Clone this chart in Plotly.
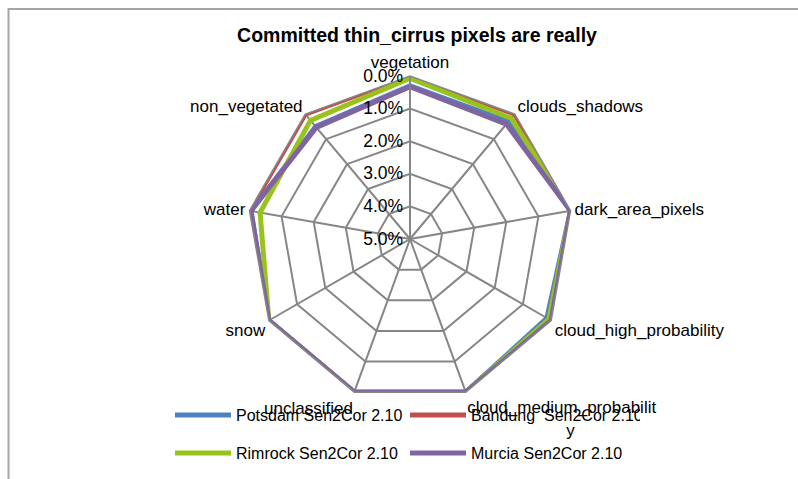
import plotly.graph_objects as go

# Categories around the radar, clockwise from the top
categories = [
    "vegetation", "clouds_shadows", "dark_area_pixels", "cloud_high_probability",
    "cloud_medium_probabilit<br>" + " " * 21 + "y", "unclassified", "snow", "water",
    "non_vegetated",
]

# Share of committed thin_cirrus pixels per class (fraction)
potsdam = [0.0030, 0.0030, 0.0, 0.0015, 0.0, 0.0, 0.0, 0.0005, 0.0050]
bandung = [0.0, 0.0, 0.0, 0.0, 0.0, 0.0, 0.0, 0.0, 0.0]
rimrock = [0.0007, 0.0017, 0.0, 0.0008, 0.0, 0.0, 0.0, 0.0033, 0.0025]
murcia = [0.0033, 0.0040, 0.0, 0.0, 0.0, 0.0, 0.0, 0.0004, 0.0053]

series_names = ["Potsdam Sen2Cor 2.10", "Bandung  Sen2Cor 2.10",
                "Rimrock Sen2Cor 2.10", "Murcia Sen2Cor 2.10"]
series_values = [potsdam, bandung, rimrock, murcia]
series_colors = ["#4F81BD", "#C0504D", "#99C31C", "#8064A2"]
series_legend = ["legend", "legend", "legend2", "legend2"]

radial_ticks = [0.0, 0.01, 0.02, 0.03, 0.04, 0.05]

FONT = "Liberation Sans"
FS = 16

fig = go.Figure()
for name, vals, color, lg in zip(series_names, series_values, series_colors, series_legend):
    fig.add_trace(go.Scatterpolar(
        r=vals + vals[:1],
        theta=categories + categories[:1],
        mode="lines",
        name=name,
        line=dict(color=color, width=5),
        legend=lg,
    ))

W, H = 798, 479
cx, cy, R = 410, 239, 163

legend_common = dict(
    orientation="h", x=170 / W, xanchor="left", yanchor="middle",
    itemwidth=56, entrywidth=164, entrywidthmode="pixels",
    font=dict(family=FONT, size=FS, color="#000000"), bgcolor="rgba(0,0,0,0)",
)

fig.update_layout(
    width=W, height=H,
    margin=dict(l=0, r=0, t=0, b=0),
    paper_bgcolor="white",
    font=dict(family=FONT, size=FS, color="#000000"),
    title=dict(
        text="<b>Committed thin_cirrus pixels are really</b>",
        x=417 / W, xanchor="center", y=1 - 35 / H, yanchor="middle",
        font=dict(family=FONT, size=19.5, color="#000000"),
    ),
    polar=dict(
        domain=dict(x=[(cx - R) / W, (cx + R) / W], y=[1 - (cy + R) / H, 1 - (cy - R) / H]),
        bgcolor="white",
        gridshape="linear",
        radialaxis=dict(
            range=[0.05, 0.0],
            tickvals=radial_ticks,
            tickformat=".1%",
            angle=90,
            tickangle=90,
            side="counterclockwise",
            showline=True,
            linecolor="#868686",
            linewidth=1.5,
            gridcolor="#868686",
            gridwidth=1.5,
            ticks="",
            tickfont=dict(family=FONT, size=17.5, color="#000000"),
        ),
        angularaxis=dict(
            direction="clockwise",
            rotation=90,
            gridcolor="#868686",
            gridwidth=1.5,
            linecolor="#868686",
            linewidth=1.5,
            ticks="",
            tickfont=dict(family=FONT, size=17, color="#000000"),
        ),
    ),
    legend=dict(y=1 - 415 / H, **legend_common),
    legend2=dict(y=1 - 453 / H, **legend_common),
    shapes=[
        dict(type="rect", xref="paper", yref="paper",
             x0=8.5 / W, x1=1.02, y0=-0.05, y1=1 - 9 / H,
             line=dict(color="#A6A6A6", width=2), fillcolor="rgba(0,0,0,0)", layer="below"),
    ],
)

fig.write_html("out.html")
